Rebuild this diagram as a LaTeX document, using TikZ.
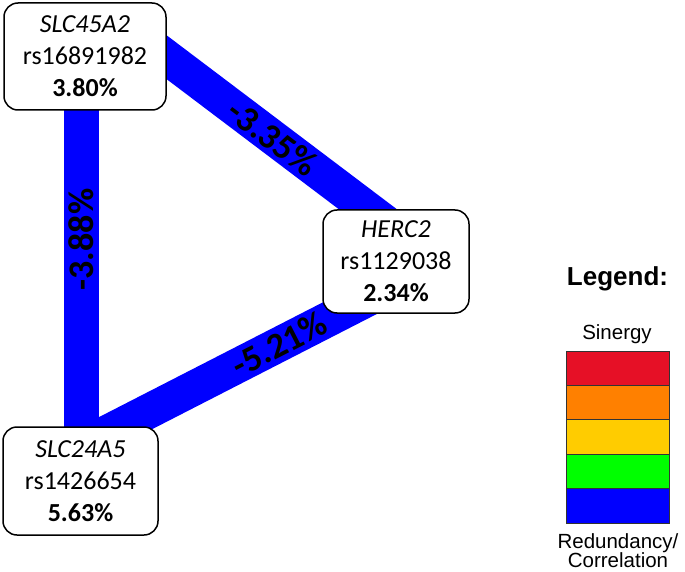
\documentclass[tikz,border=0pt]{standalone}
\usepackage{fontspec}
\setmainfont{Carlito}
\newfontfamily\arialfont{Liberation Sans}
\usetikzlibrary{calc,backgrounds}
\definecolor{edgeblue}{RGB}{0,0,255}
\definecolor{legred}{RGB}{230,16,38}
\definecolor{legorange}{RGB}{255,128,0}
\definecolor{legyellow}{RGB}{255,204,0}
\definecolor{leggreen}{RGB}{0,255,0}
\definecolor{legblue}{RGB}{0,0,255}
\begin{document}
\begin{tikzpicture}[x=1pt,y=-1pt,
  gene/.style={draw=black,line width=1.5pt,rounded corners=14pt,fill=white,align=center,
    font=\fontsize{26}{32}\selectfont,inner sep=0pt},
  link/.style={draw=edgeblue,line width=35pt},
  wlab/.style={sloped,font=\fontsize{36}{40}\selectfont,inner sep=0pt},
  legbox/.style={draw=black!80,line width=0.8pt},
  legtext/.style={font=\arialfont\fontsize{20.5}{22}\selectfont,inner sep=0pt,align=center}]
\useasboundingbox (0,0) rectangle (685,572);
\node[gene,minimum width=162pt,minimum height=107pt] (s45) at (85,56.5)
  {\textit{SLC45A2}\\rs16891982\\\textbf{3.80\%}};
\node[gene,minimum width=146pt,minimum height=103pt] (h2) at (396,261.5)
  {\textit{HERC2}\\rs1129038\\\textbf{2.34\%}};
\node[gene,minimum width=155pt,minimum height=108pt] (s24) at (80.5,481)
  {\textit{SLC24A5}\\rs1426654\\\textbf{5.63\%}};
\begin{scope}[on background layer]
  \draw[link] ($(s24.center)+(0.5,-35)$) -- ($(s45.center)+(-4,0)$)
    node[wlab,pos=0.53] {\textbf{-3.88\%}};
  \draw[link] ($(s45.center)+(35,-34.5)$) -- ($(h2.center)+(0,-31)$)
    node[wlab,pos=0.554] {\textbf{-3.35\%}};
  \draw[link] ($(s24.center)+(0.5,-35)$) -- ($(h2.center)+(0,23)$)
    node[wlab,pos=0.63] {\textbf{-5.21\%}};
\end{scope}
% legend
\node[font=\arialfont\bfseries\fontsize{26}{28}\selectfont,inner sep=0pt,anchor=base] (legtitle) at (617.5,285) {Legend:};
\node[legtext,anchor=base] (syn) at (617,339) {Sinergy};
\fill[legred] (566,351) rectangle (669,385.4);
\fill[legorange] (566,385.4) rectangle (669,419.8);
\fill[legyellow] (566,419.8) rectangle (669,454.2);
\fill[leggreen] (566,454.2) rectangle (669,488.6);
\fill[legblue] (566,488.6) rectangle (669,523);
\foreach \y in {351,385.4,419.8,454.2,488.6} {\draw[legbox] (566,\y) rectangle (669,\y+34.4);}
\node[legtext,anchor=base] (red1) at (618,548) {Redundancy/};
\node[legtext,anchor=base] (red2) at (618,567.5) {Correlation};
\end{tikzpicture}
\end{document}
